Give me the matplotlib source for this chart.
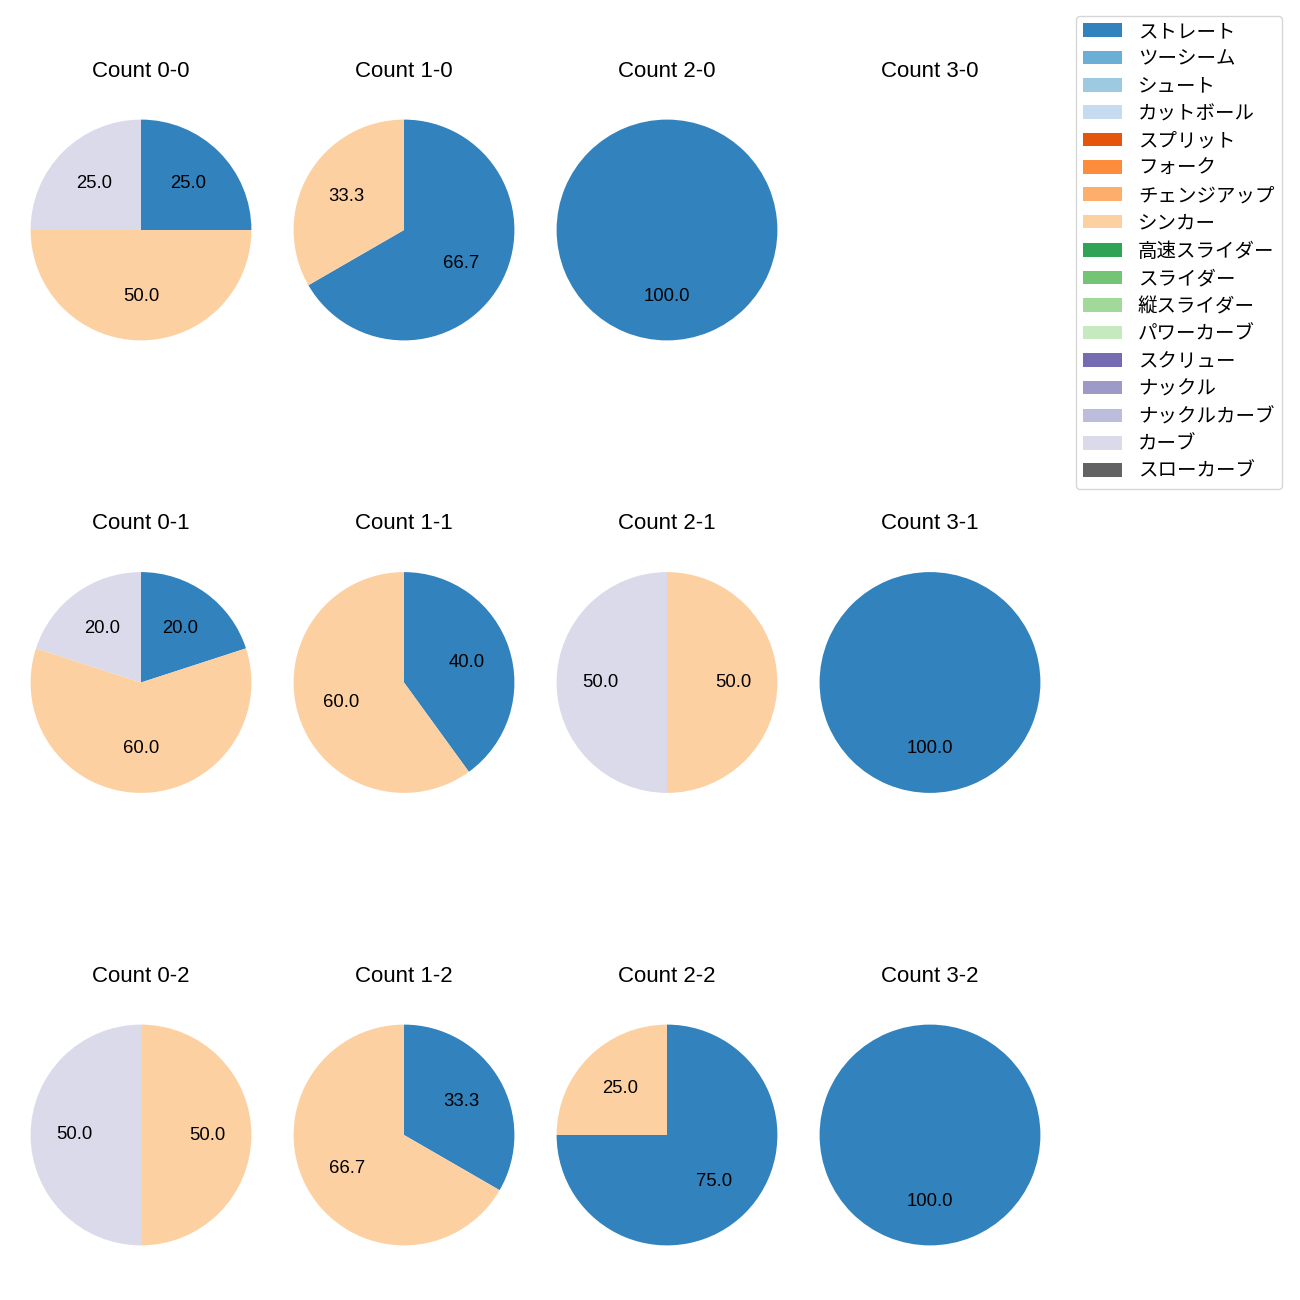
import matplotlib
matplotlib.use('Agg')
import matplotlib.pyplot as plt
from matplotlib.patches import Patch

plt.rcParams['font.family'] = ['Liberation Sans', 'Noto Sans CJK JP', 'DejaVu Sans']

# pitch types, in legend order
pitch_names = ['ストレート', 'ツーシーム', 'シュート', 'カットボール', 'スプリット', 'フォーク',
               'チェンジアップ', 'シンカー', '高速スライダー', 'スライダー', '縦スライダー',
               'パワーカーブ', 'スクリュー', 'ナックル', 'ナックルカーブ', 'カーブ', 'スローカーブ']

# counts per ball-strike count (only these three pitches were thrown)
counts = ['0-0', '1-0', '2-0', '3-0',
          '0-1', '1-1', '2-1', '3-1',
          '0-2', '1-2', '2-2', '3-2']
straight = [1, 2, 1, 0, 1, 2, 0, 1, 0, 1, 3, 1]
sinker   = [2, 1, 0, 0, 3, 3, 1, 0, 1, 2, 1, 0]
curve    = [1, 0, 0, 0, 1, 0, 1, 0, 1, 0, 0, 0]

cmap = plt.get_cmap('tab20c')
colors = [cmap(i) for i in range(17)]
col = {name: colors[i] for i, name in enumerate(pitch_names)}

fig = plt.figure(figsize=(13, 13), dpi=100)

size = 276
for i, cnt in enumerate(counts):
    r, c = divmod(i, 4)
    cx = 141 + 263 * c
    cy = 230 + 452.5 * r
    ax = fig.add_axes([(cx - size / 2) / 1300, 1 - (cy + size / 2) / 1300,
                       size / 1300, size / 1300])
    vals = []
    cols = []
    for name, v in zip(['ストレート', 'シンカー', 'カーブ'],
                       [straight[i], sinker[i], curve[i]]):
        if v > 0:
            vals.append(v)
            cols.append(col[name])
    if vals:
        ax.pie(vals, colors=cols, startangle=90, counterclock=False,
               autopct='%.1f', textprops={'fontsize': 13.3})
    else:
        ax.axis('off')
    ax.set_title('Count ' + cnt, fontsize=16, pad=11)

handles = [Patch(facecolor=colors[i], label=pitch_names[i]) for i in range(17)]
fig.legend(handles=handles, loc='upper right', bbox_to_anchor=(0.9938, 0.9954),
           fontsize=14)

fig.savefig('out.png', dpi=100)
